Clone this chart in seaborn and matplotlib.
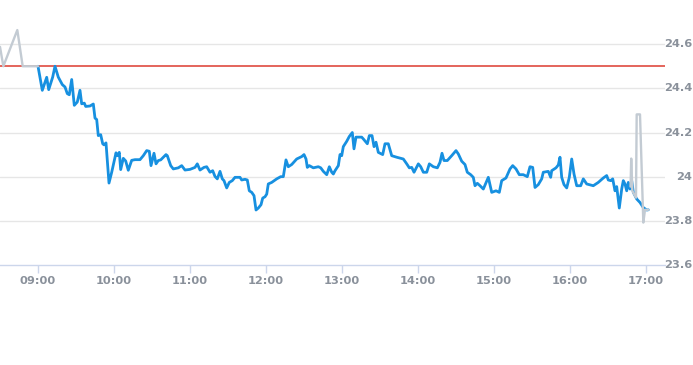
import matplotlib
matplotlib.use("Agg")
import matplotlib.pyplot as plt
import seaborn as sns
import pandas as pd

# ---- data ----
pre_times = ["08:30:00", "08:32:38", "08:43:40", "08:47:55", "09:00:00"]
pre_prices = [24.588, 24.500, 24.664, 24.500, 24.500]

main_times = [
    "09:00:00", "09:03:24", "09:06:52", "09:08:27", "09:11:36", "09:13:25", "09:16:00", "09:19:11",
    "09:21:19", "09:23:08", "09:24:42", "09:26:36", "09:28:39", "09:31:01", "09:33:09", "09:34:30",
    "09:36:33", "09:37:40", "09:41:03", "09:43:40", "09:45:00", "09:46:20", "09:47:36", "09:49:30",
    "09:51:05", "09:52:06", "09:53:41", "09:56:03", "09:58:11", "10:01:35", "10:02:37", "10:04:11",
    "10:05:17", "10:07:20", "10:09:14", "10:11:17", "10:13:58", "10:16:34", "10:20:31", "10:23:08",
    "10:25:49", "10:27:52", "10:29:13", "10:31:35", "10:33:10", "10:34:59", "10:36:53", "10:38:56",
    "10:41:03", "10:42:05", "10:44:46", "10:46:49", "10:50:46", "10:53:27", "10:56:03", "11:00:00",
    "11:03:57", "11:05:46", "11:07:54", "11:11:03", "11:13:11", "11:15:47", "11:17:55", "11:19:44",
    "11:21:33", "11:23:41", "11:25:30", "11:26:50", "11:28:58", "11:31:01", "11:33:23", "11:35:31",
    "11:39:28", "11:40:48", "11:43:25", "11:45:14", "11:46:49", "11:48:43", "11:50:32", "11:52:07",
    "11:53:56", "11:56:04", "11:57:24", "11:59:13", "12:00:34", "12:01:49", "12:04:30", "12:08:27",
    "12:11:37", "12:13:40", "12:15:47", "12:17:36", "12:20:17", "12:24:14", "12:28:11", "12:30:00",
    "12:31:35", "12:32:37", "12:34:12", "12:37:22", "12:41:19", "12:43:13", "12:45:16", "12:47:57",
    "12:50:00", "12:51:54", "12:53:10", "12:54:30", "12:57:07", "12:58:25", "12:59:46", "13:01:02",
    "13:03:43", "13:05:46", "13:08:08", "13:09:28", "13:11:03", "13:15:33", "13:16:49", "13:20:00",
    "13:21:35", "13:23:42", "13:25:17", "13:26:51", "13:28:40", "13:32:08", "13:33:57", "13:36:33",
    "13:39:15", "13:43:12", "13:48:25", "13:51:06", "13:53:09", "13:55:03", "13:56:52", "14:00:16",
    "14:02:09", "14:04:13", "14:06:54", "14:08:57", "14:12:07", "14:15:17", "14:17:22", "14:18:57",
    "14:20:32", "14:23:08", "14:26:36", "14:30:00", "14:31:49", "14:34:30", "14:37:06", "14:38:55",
    "14:41:36", "14:43:39", "14:45:00", "14:46:49", "14:48:57", "14:51:34", "14:55:31", "14:58:12",
    "15:01:35", "15:04:11", "15:06:05", "15:09:28", "15:12:38", "15:14:46", "15:17:22", "15:19:58",
    "15:23:08", "15:26:17", "15:28:25", "15:30:33", "15:32:22", "15:34:58", "15:37:39", "15:38:55",
    "15:42:52", "15:44:45", "15:45:33", "15:48:57", "15:50:46", "15:52:06", "15:53:27", "15:55:16",
    "15:57:24", "15:59:27", "16:01:21", "16:03:10", "16:05:18", "16:08:27", "16:10:30", "16:13:10",
    "16:18:23", "16:22:20", "16:26:17", "16:28:58", "16:30:14", "16:32:08", "16:33:43", "16:35:32",
    "16:36:52", "16:38:55", "16:40:49", "16:42:05", "16:43:25", "16:44:46", "16:46:01", "16:47:22",
    "16:48:42", "16:50:00", "16:52:39", "16:55:16", "16:57:53", "17:00:33", "17:01:49",
]
main_prices = [
    24.500, 24.391, 24.450, 24.394, 24.451, 24.500, 24.451, 24.417,
    24.406, 24.376, 24.371, 24.440, 24.323, 24.338, 24.391, 24.330,
    24.333, 24.318, 24.320, 24.329, 24.265, 24.259, 24.186, 24.190,
    24.149, 24.144, 24.153, 23.971, 24.020, 24.108, 24.095, 24.110,
    24.032, 24.083, 24.071, 24.029, 24.074, 24.077, 24.077, 24.095,
    24.118, 24.115, 24.050, 24.106, 24.058, 24.073, 24.076, 24.088,
    24.100, 24.095, 24.050, 24.035, 24.040, 24.050, 24.030, 24.033,
    24.042, 24.058, 24.030, 24.042, 24.045, 24.020, 24.027, 24.001,
    23.990, 24.024, 23.990, 23.982, 23.949, 23.974, 23.982, 23.997,
    23.997, 23.985, 23.988, 23.985, 23.936, 23.929, 23.914, 23.849,
    23.858, 23.873, 23.903, 23.909, 23.921, 23.967, 23.974, 23.990,
    24.000, 24.000, 24.076, 24.045, 24.055, 24.080, 24.091, 24.100,
    24.080, 24.042, 24.050, 24.040, 24.045, 24.040, 24.024, 24.009,
    24.045, 24.020, 24.012, 24.027, 24.050, 24.100, 24.095, 24.136,
    24.160, 24.182, 24.200, 24.126, 24.179, 24.179, 24.171, 24.149,
    24.186, 24.186, 24.136, 24.156, 24.110, 24.100, 24.149, 24.149,
    24.095, 24.088, 24.080, 24.058, 24.040, 24.042, 24.020, 24.058,
    24.045, 24.020, 24.020, 24.058, 24.045, 24.040, 24.065, 24.106,
    24.073, 24.073, 24.095, 24.118, 24.103, 24.070, 24.055, 24.020,
    24.009, 23.997, 23.959, 23.970, 23.959, 23.944, 23.997, 23.929,
    23.936, 23.929, 23.982, 23.994, 24.035, 24.050, 24.035, 24.009,
    24.009, 24.000, 24.045, 24.042, 23.951, 23.964, 23.990, 24.020,
    24.024, 23.997, 24.027, 24.040, 24.053, 24.088, 23.997, 23.964,
    23.949, 23.997, 24.080, 24.012, 23.959, 23.959, 23.990, 23.967,
    23.959, 23.974, 23.994, 24.005, 23.985, 23.982, 23.990, 23.936,
    23.955, 23.858, 23.944, 23.982, 23.967, 23.936, 23.974, 23.944,
    23.982, 23.929, 23.899, 23.883, 23.860, 23.849, 23.850,
]

post_times = ["16:47:47", "16:48:20", "16:49:12", "16:52:06", "16:52:39", "16:55:16",
              "16:57:53", "16:59:13", "17:01:49"]
post_prices = [23.955, 24.082, 23.936, 23.905, 24.282, 24.282, 23.792, 23.850, 23.850]

prev_close = 24.5
tick_hours = [9, 10, 11, 12, 13, 14, 15, 16, 17]
tick_labels = ["09:00", "10:00", "11:00", "12:00", "13:00", "14:00", "15:00", "16:00", "17:00"]
y_ticks = [23.6, 23.8, 24.0, 24.2, 24.4, 24.6]
y_labels = ["23.6", "23.8", "24", "24.2", "24.4", "24.6"]


def to_hours(ts):
    s = pd.to_timedelta(pd.Series(ts))
    return s.dt.total_seconds() / 3600.0


df_main = pd.DataFrame({"t": to_hours(main_times), "price": main_prices})
df_pre = pd.DataFrame({"t": to_hours(pre_times), "price": pre_prices})
df_post = pd.DataFrame({"t": to_hours(post_times), "price": post_prices})

# ---- plot ----
sns.set_theme(style="white")
W, H = 693, 365
fig = plt.figure(figsize=(W / 100, H / 100), dpi=100)
ax = fig.add_axes([0, 100 / H, 665 / W, 265 / H])

grid_c = "#e6e6e6"
for yv in y_ticks[1:]:
    ax.axhline(yv, color=grid_c, lw=1, zorder=0)

ax.axhline(prev_close, color="#dd3a2f", lw=1.1, zorder=2)

sns.lineplot(data=df_main, x="t", y="price", ax=ax, color="#1790e0", lw=2.0,
             estimator=None, sort=False, zorder=3)
sns.lineplot(data=df_pre, x="t", y="price", ax=ax, color="#c3cbd3", lw=1.7,
             estimator=None, sort=False, zorder=4)
sns.lineplot(data=df_post, x="t", y="price", ax=ax, color="#c3cbd3", lw=1.7,
             estimator=None, sort=False, zorder=4)

ax.set_xlim(8.5, 17.25)
ax.set_ylim(23.6, 24.8)
ax.set_xlabel("")
ax.set_ylabel("")

for side in ["top", "left", "right"]:
    ax.spines[side].set_visible(False)
ax.spines["bottom"].set_color("#ccd6eb")
ax.spines["bottom"].set_linewidth(1)

label_c = "#8a919b"
ax.set_xticks(tick_hours)
ax.set_xticklabels(tick_labels)
ax.tick_params(axis="x", bottom=True, length=6, width=1, color="#ccd6eb",
               labelsize=8.2, labelcolor=label_c, pad=2)
ax.set_yticks([])

for yv, lab in zip(y_ticks, y_labels):
    ax.text(692 / 665, yv, lab, transform=ax.get_yaxis_transform(),
            ha="right", va="center", fontsize=8.2, color=label_c,
            fontweight="bold", clip_on=False)
for lab in ax.get_xticklabels():
    lab.set_fontweight("bold")

fig.savefig("out.png", dpi=100)
